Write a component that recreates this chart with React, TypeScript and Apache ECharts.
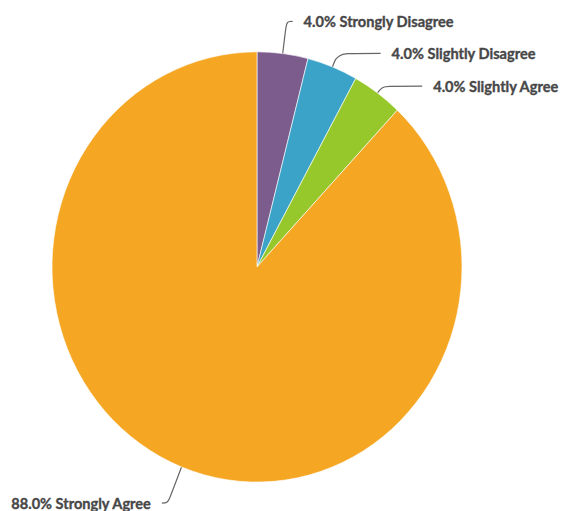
import React, { useEffect, useRef } from "react";
import * as echarts from "echarts";

const categories = ["Strongly Disagree", "Slightly Disagree", "Slightly Agree", "Strongly Agree"];
const values = [4.0, 4.0, 4.0, 88.0];
const colors = ["#7b5c8c", "#3ba3c7", "#97c82b", "#f5a623"];
const lineLengths = [31, 14, 8, 37];
const lineLengths2 = [6, 43, 40, 6];

const STRETCH = 1.0494;

export default function App() {
  const ref = useRef<HTMLDivElement>(null);
  useEffect(() => {
    if (!ref.current) return;
    const chart = echarts.init(ref.current, undefined, { renderer: "svg" });
    chart.setOption({
      animation: false,
      backgroundColor: "#ffffff",
      series: [
        {
          type: "pie",
          center: [257, 254.4],
          radius: [0, 205],
          startAngle: 90,
          clockwise: true,
          avoidLabelOverlap: false,
          itemStyle: { borderColor: "#ffffff", borderWidth: 0.6 },
          label: {
            show: true,
            position: "outside",
            formatter: (p: any) => `${p.value.toFixed(1)}% ${p.name}`,
            fontFamily: "Lato",
            fontSize: 14.6,
            fontWeight: "bold",
            color: "#474747",
            textBorderColor: "#474747",
            textBorderWidth: 0.35,
            distanceToLabelLine: 11,
          },
          labelLine: {
            show: true,
            smooth: 0.4,
            lineStyle: { color: "#666666", width: 1.2 },
          },
          emphasis: { disabled: true },
          data: categories.map((name, i) => ({
            name,
            value: values[i],
            itemStyle: { color: colors[i] },
            labelLine: { length: lineLengths[i], length2: lineLengths2[i] },
          })),
        },
      ],
    });
    return () => chart.dispose();
  }, []);
  return (
    <div
      style={{ position: "fixed", left: 0, top: 0, width: 561, height: 511, overflow: "hidden", background: "#ffffff" }}
    >
      <div
        ref={ref}
        style={{
          width: 561,
          height: Math.round(511 / STRETCH),
          transform: `scaleY(${STRETCH})`,
          transformOrigin: "0 0",
        }}
      />
    </div>
  );
}
